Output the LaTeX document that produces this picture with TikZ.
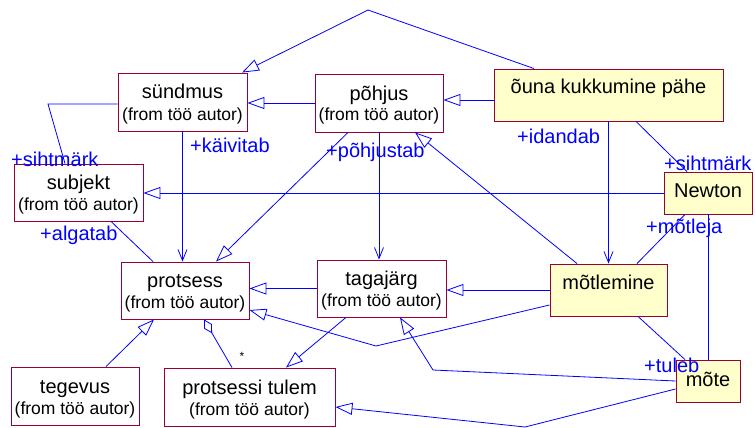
\documentclass[tikz,border=0pt]{standalone}
\usepackage{fontspec}
\setmainfont{Liberation Sans}
\usetikzlibrary{arrows.meta}
\definecolor{boxline}{RGB}{153,0,51}
\definecolor{boxfill}{RGB}{255,255,204}
\definecolor{linkblue}{RGB}{0,0,255}
\begin{document}
\begin{tikzpicture}[x=1pt,y=-1pt,
  umlbox/.style={draw=boxline,line width=0.9pt,fill=white,inner sep=0pt},
  actbox/.style={umlbox,fill=boxfill},
  ttl/.style={inner sep=0pt,anchor=base,font=\fontsize{20}{24}\selectfont},
  sub/.style={inner sep=0pt,anchor=base,font=\fontsize{17.5}{21}\selectfont},
  role/.style={inner sep=0pt,anchor=base west,text=linkblue,font=\fontsize{20}{24}\selectfont},
  link/.style={draw=linkblue,line width=0.8pt},
  gen/.style={link,-{Triangle[open,length=17pt,width=12pt]}},
  nav/.style={link,-{Straight Barb[length=11pt,width=9pt]}},
  agg/.style={link,{Diamond[open,length=16pt,width=9pt]}-}]
\useasboundingbox (0,0) rectangle (755,428);

% classes
\node[umlbox,minimum width=129pt,minimum height=58pt] (sundmus) at (182.5,102) {};
\node[umlbox,minimum width=128pt,minimum height=58pt] (pohjus) at (379,103) {};
\node[actbox,minimum width=229pt,minimum height=52pt] (ouna) at (608.5,95) {};
\node[umlbox,minimum width=129pt,minimum height=57pt] (subjekt) at (78.5,192.5) {};
\node[actbox,minimum width=88pt,minimum height=42pt] (newton) at (708,193) {};
\node[umlbox,minimum width=128pt,minimum height=57pt] (protsess) at (185,290.5) {};
\node[umlbox,minimum width=129pt,minimum height=57pt] (tagajarg) at (381.5,288.5) {};
\node[actbox,minimum width=117pt,minimum height=52pt] (motlemine) at (608.5,290) {};
\node[umlbox,minimum width=128pt,minimum height=58pt] (tegevus) at (75,396) {};
\node[umlbox,minimum width=171pt,minimum height=58pt] (tulem) at (249.5,397) {};
\node[actbox,minimum width=64pt,minimum height=42pt] (mote) at (708,381) {};

% class names
\foreach \n/\t in {sundmus/sündmus,pohjus/põhjus,subjekt/subjekt,protsess/protsess,
                   tagajarg/tagajärg,tegevus/tegevus,tulem/protsessi tulem}{
  \node[ttl] (\n-name) at ([yshift=3pt]\n.center) {\t};
  \node[sub] (\n-from) at ([yshift=-18pt]\n.center) {(from töö autor)};
}
\node[ttl] (ouna-name) at ([yshift=2pt]ouna.center) {õuna kukkumine pähe};
\node[ttl] (motlemine-name) at ([yshift=1pt]motlemine.center) {mõtlemine};
\node[ttl] (newton-name) at ([yshift=-4pt]newton.center) {Newton};
\node[ttl] (mote-name) at ([yshift=-5pt]mote.center) {mõte};

% bend points
\coordinate (apex) at (368,10);
\coordinate (sbend) at (48,104);
\coordinate (mpbend) at (376,346);
\coordinate (mtbend) at (433,370);
\coordinate (mrbend) at (525,427);

% generalisations
\draw[gen] ([xshift=-74.5pt]ouna.north) -- (apex) -- ([xshift=59.5pt]sundmus.north);
\draw[gen] ([yshift=-5pt]ouna.west) -- ([yshift=3pt]pohjus.east);
\draw[gen] (pohjus.west) -- (pohjus.west -| sundmus.east);
\draw[gen] (newton.west) -- (newton.west -| subjekt.east);
\draw[gen] ([xshift=-31pt]pohjus.south) -- ([xshift=31pt]protsess.north);
\draw[gen] (tagajarg.west) -- (tagajarg.west -| protsess.east);
\draw[gen] (motlemine.west) -- (motlemine.west -| tagajarg.east);
\draw[gen] ([xshift=-31.5pt]motlemine.north) -- ([xshift=36pt]pohjus.south);
\draw[gen] ([yshift=-15pt]motlemine.west) -- (mpbend) -- ([yshift=-19.5pt]protsess.east);
\draw[gen] (mote.west) -- (mtbend) -- ([xshift=18.5pt]tagajarg.south);
\draw[gen] ([yshift=-8pt]mote.west) -- (mrbend) -- ([yshift=-10pt]tulem.east);
\draw[gen] ([xshift=-35.5pt]tagajarg.south) -- ([xshift=36.5pt]tulem.north);
\draw[gen] ([xshift=31pt]tegevus.north) -- ([xshift=-31pt]protsess.south);

% navigable associations
\draw[nav] (sundmus.south) -- (sundmus.south |- protsess.north);
\draw[nav] (pohjus.south) -- (pohjus.south |- tagajarg.north);
\draw[nav] (ouna.south) -- (motlemine.north);

% plain associations
\draw[link] ([yshift=-2pt]sundmus.west) -- (sbend) -- ([xshift=-13.5pt]subjekt.north);
\draw[link] ([xshift=32.5pt]subjekt.south) -- ([xshift=-32pt]protsess.north);
\draw[link] ([xshift=27.5pt]ouna.south) -- ([xshift=-21pt]newton.north);
\draw[link] ([xshift=-23pt]newton.south) -- ([xshift=28.5pt]motlemine.north);
\draw[link] (newton.south) -- (mote.north);
\draw[link] ([xshift=29.5pt]motlemine.south) -- ([xshift=-23pt]mote.north);

% aggregation
\draw[agg] ([xshift=19pt]protsess.south) -- ([xshift=-17.5pt]tulem.north);
\node[inner sep=0pt,font=\fontsize{12}{14}\selectfont] (mult) at (242,356) {*};

% role names
\node[role] (r1) at (11,166) {+sihtmärk};
\node[role] (r2) at (190,152) {+käivitab};
\node[role] (r3) at (326,157) {+põhjustab};
\node[role] (r4) at (517,143) {+idandab};
\node[role] (r5) at (664,170) {+sihtmärk};
\node[role] (r6) at (40,240) {+algatab};
\node[role] (r7) at (646,233) {+mõtleja};
\node[role] (r8) at (644,372) {+tuleb};
\end{tikzpicture}
\end{document}
